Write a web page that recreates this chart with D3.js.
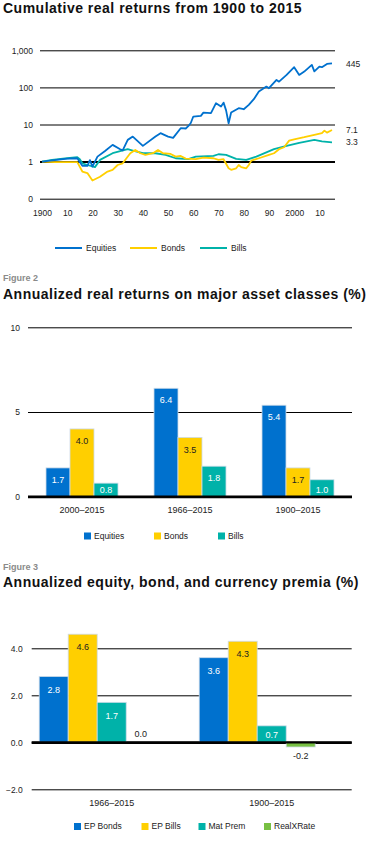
<!DOCTYPE html>
<html>
<head>
<meta charset="utf-8">
<script src="https://cdn.jsdelivr.net/npm/d3@7"></script>
<style>
  html, body { margin: 0; padding: 0; background: #fff; }
  svg { display: block; font-family: "Liberation Sans", Arial, sans-serif; }
  .title { font-weight: bold; font-size: 14px; fill: #111; letter-spacing: 0.5px; }
  .fig { font-weight: bold; font-size: 9px; fill: #8a8a8a; }
  .tick-label, .legend-text, .cat-label { font-size: 8.5px; fill: #222; }
  .bar-label { font-size: 9px; }
</style>
</head>
<body>
<div id="chart"></div>
<script>
// ---- Figure 1: cumulative real returns (log scale) ----
const equityYears  = [1900, 1905, 1910, 1914, 1916, 1918, 1919, 1920, 1922, 1925, 1928, 1931, 1932, 1934, 1936, 1940, 1945, 1947, 1950, 1952, 1955, 1957, 1958, 1959, 1960, 1963, 1964, 1967, 1969, 1971, 1972, 1973, 1974, 1975, 1978, 1980, 1982, 1984, 1986, 1989, 1990, 1993, 1994, 1997, 2000, 2002, 2004, 2007, 2008, 2010, 2011, 2013, 2015];
const equityValues = [1.0, 1.1, 1.2, 1.23, 0.77, 0.77, 1.1, 0.73, 1.36, 1.94, 2.82, 2.16, 2.0, 3.85, 4.72, 2.65, 4.72, 5.83, 4.72, 4.35, 7.95, 7.8, 9, 11, 16.4, 17.1, 20.9, 20.2, 37.5, 30.4, 38.9, 24, 10.8, 21, 27.5, 25.8, 33.8, 48.1, 77, 105, 95, 159, 143, 217, 350, 217, 267, 404, 270, 364, 350, 430, 445];

const bondYears  = [1900, 1905, 1910, 1914, 1916, 1918, 1920, 1923, 1926, 1928, 1930, 1932, 1935, 1937, 1939, 1941, 1944, 1946, 1948, 1951, 1953, 1955, 1957, 1961, 1964, 1968, 1970, 1972, 1974, 1975, 1977, 1978, 1979, 1981, 1982, 1983, 1986, 1990, 1992, 1994, 1996, 1998, 2000, 2004, 2008, 2011, 2012, 2013, 2015];
const bondValues = [1.0, 0.97, 0.97, 0.97, 0.54, 0.49, 0.31, 0.39, 0.54, 0.6, 0.81, 0.9, 1.68, 2.07, 1.68, 1.52, 1.68, 2.07, 1.68, 1.61, 1.36, 1.42, 1.2, 1.16, 1.28, 1.23, 1.11, 1.16, 0.66, 0.6, 0.66, 0.81, 0.71, 0.66, 0.81, 1.06, 1.23, 1.52, 1.68, 2.16, 2.44, 3.68, 4.0, 4.54, 5.25, 5.83, 6.85, 6.05, 7.1];

const billYears  = [1900, 1904, 1910, 1914, 1915, 1916, 1918, 1921, 1923, 1928, 1934, 1936, 1940, 1945, 1949, 1953, 1958, 1961, 1968, 1970, 1973, 1977, 1981, 1985, 1992, 1997, 2002, 2008, 2011, 2015];
const billValues = [1.0, 1.11, 1.23, 1.31, 1.16, 0.9, 0.81, 0.71, 1.11, 1.68, 2.16, 1.98, 1.68, 1.68, 1.52, 1.23, 1.16, 1.36, 1.42, 1.58, 1.52, 1.18, 1.11, 1.36, 2.16, 2.65, 3.2, 3.85, 3.5, 3.3];

const logTicks = [0.1, 1, 10, 100, 1000];
const logTickLabels = ['0', '1', '10', '100', '1,000'];
const yearTicks = [1900, 1910, 1920, 1930, 1940, 1950, 1960, 1970, 1980, 1990, 2000, 2010];
const yearTickLabels = ['1900', '10', '20', '30', '40', '50', '60', '70', '80', '90', '2000', '10'];
const lineSeries = ['Equities', 'Bonds', 'Bills'];
const endLabels = ['445', '7.1', '3.3'];

// ---- Figure 2: annualized real returns ----
const periods2 = ['2000–2015', '1966–2015', '1900–2015'];
const assets2 = ['Equities', 'Bonds', 'Bills'];
const equities2 = [1.7, 6.4, 5.4];
const bonds2 = [4.0, 3.5, 1.7];
const bills2 = [0.8, 1.8, 1.0];
const ticks2 = [0, 5, 10];

// ---- Figure 3: premia ----
const periods3 = ['1966–2015', '1900–2015'];
const premia3 = ['EP Bonds', 'EP Bills', 'Mat Prem', 'RealXRate'];
const epBonds3 = [2.8, 3.6];
const epBills3 = [4.6, 4.3];
const matPrem3 = [1.7, 0.7];
const realXRate3 = [0.0, -0.2];
const ticks3 = [-2, 0, 2, 4];

const COLORS = {
    blue: '#0071ce',
    yellow: '#ffcf00',
    teal: '#00b2a9',
    green: '#78c043',
    grid: '#000',
    edge: '#cddbe8'
};
const seriesColors = [COLORS.blue, COLORS.yellow, COLORS.teal, COLORS.green];

const svg = d3.select('#chart')
    .append('svg')
    .attr('width', 374)
    .attr('height', 851);

// Titles
svg.append('text').attr('class', 'title').attr('x', 3).attr('y', 12.5)
    .text('Cumulative real returns from 1900 to 2015');
svg.append('text').attr('class', 'fig').attr('x', 3).attr('y', 281).text('Figure 2');
svg.append('text').attr('class', 'title').attr('x', 3).attr('y', 299)
    .text('Annualized real returns on major asset classes (%)');
svg.append('text').attr('class', 'fig').attr('x', 3).attr('y', 570).text('Figure 3');
svg.append('text').attr('class', 'title').attr('x', 3).attr('y', 587)
    .text('Annualized equity, bond, and currency premia (%)');

// ================= Figure 1 =================
const x1 = d3.scaleLinear().domain([1900, 2015]).range([42, 332]);
const y1 = d3.scaleLog().domain([0.1, 1000]).range([198.7, 50.3]);
const gridL = 40, gridR = 335;

const g1 = svg.append('g');

const yAxis1 = g1.append('g')
    .attr('transform', `translate(${gridL},0)`)
    .call(d3.axisLeft(y1).tickValues(logTicks)
        .tickFormat((d, i) => logTickLabels[i])
        .tickSizeInner(-(gridR - gridL)).tickSizeOuter(0).tickPadding(7));
yAxis1.select('.domain').remove();
yAxis1.selectAll('.tick line')
    .attr('stroke', COLORS.grid)
    .attr('stroke-width', d => d === 1 ? 2 : 1);
yAxis1.selectAll('.tick text').attr('class', 'tick-label').style('font-size', '8.5px');

const xAxis1 = g1.append('g')
    .attr('transform', `translate(0,${y1(0.1)})`)
    .call(d3.axisBottom(x1).tickValues(yearTicks)
        .tickFormat((d, i) => yearTickLabels[i])
        .tickSize(0).tickPadding(11));
xAxis1.select('.domain').remove();
xAxis1.selectAll('.tick text').attr('class', 'tick-label').style('font-size', '8.5px');

const lineData = [
    equityYears.map((yr, i) => ({ year: yr, value: equityValues[i] })),
    bondYears.map((yr, i) => ({ year: yr, value: bondValues[i] })),
    billYears.map((yr, i) => ({ year: yr, value: billValues[i] }))
];

const line = d3.line()
    .x(d => x1(d.year))
    .y(d => y1(d.value));

// draw bills and bonds under equities, matching reference layering
[2, 1, 0].forEach(i => {
    g1.append('path')
        .datum(lineData[i])
        .attr('fill', 'none')
        .attr('stroke', seriesColors[i])
        .attr('stroke-width', 1.8)
        .attr('stroke-linejoin', 'round')
        .attr('d', line);
});

const endOffsets = [1, 0, 0];
lineData.forEach((s, i) => {
    const last = s[s.length - 1];
    g1.append('text')
        .attr('class', 'tick-label')
        .attr('x', 346)
        .attr('y', y1(last.value) + endOffsets[i])
        .attr('dy', '0.35em')
        .text(endLabels[i]);
});

// legend (line swatches)
const legend1X = [55, 130, 200];
const legend1 = g1.append('g').attr('transform', 'translate(0,248)');
lineSeries.forEach((name, i) => {
    legend1.append('line')
        .attr('x1', legend1X[i]).attr('x2', legend1X[i] + 27)
        .attr('stroke', seriesColors[i]).attr('stroke-width', 2);
    legend1.append('text')
        .attr('class', 'legend-text')
        .attr('x', legend1X[i] + 31).attr('dy', '0.35em')
        .text(name);
});

// ============ shared grouped-bar helper ============
function barChart(opts) {
    const g = svg.append('g');
    const y = d3.scaleLinear().domain(opts.yDomain).range(opts.yRange);

    const axis = g.append('g')
        .attr('transform', `translate(${opts.gridL},0)`)
        .call(d3.axisLeft(y).tickValues(opts.ticks)
            .tickFormat(opts.tickFormat)
            .tickSizeInner(-(opts.gridR - opts.gridL)).tickSizeOuter(0).tickPadding(opts.tickPad));
    axis.select('.domain').remove();
    axis.selectAll('.tick line')
        .attr('stroke', COLORS.grid)
        .attr('stroke-width', d => d === 0 ? 2.2 : 1);
    axis.selectAll('.tick text').attr('class', 'tick-label').style('font-size', '8.5px');

    const x0 = d3.scaleBand()
        .domain(opts.categories)
        .range([opts.gridL, opts.gridR])
        .paddingInner(opts.paddingInner)
        .paddingOuter(opts.paddingOuter);

    const xs = d3.scaleBand()
        .domain(opts.series)
        .range([0, x0.bandwidth() * opts.slotShare]);

    const rows = opts.categories.map((c, ci) => opts.series.map((s, si) => ({
        cat: c, series: s, si: si, value: opts.values[si][ci]
    })));

    const groups = g.selectAll('.grp')
        .data(rows)
        .join('g')
        .attr('class', 'grp')
        .attr('transform', d => `translate(${x0(d[0].cat)},0)`);

    groups.selectAll('rect')
        .data(d => d)
        .join('rect')
        .attr('x', d => xs(d.series))
        .attr('y', d => y(Math.max(0, d.value)))
        .attr('width', xs.bandwidth())
        .attr('height', d => Math.abs(y(d.value) - y(0)))
        .attr('fill', d => seriesColors[d.si])
        .attr('stroke', COLORS.edge)
        .attr('stroke-width', 0.8);

    // zero line back on top of bars
    g.append('line')
        .attr('x1', opts.gridL).attr('x2', opts.gridR)
        .attr('y1', y(0)).attr('y2', y(0))
        .attr('stroke', COLORS.grid).attr('stroke-width', 2.2);

    groups.selectAll('.bar-label')
        .data(d => d)
        .join('text')
        .attr('class', 'bar-label')
        .attr('text-anchor', 'middle')
        .attr('dy', '0.35em')
        .attr('x', d => xs(d.series) + xs.bandwidth() / 2)
        .attr('y', d => {
            if (d.value === 0) return y(0) - 8;
            if (d.value < 0) return y(d.value) + 9;
            const top = y(d.value);
            return Math.min(top + opts.labelInset, y(0) - 7);
        })
        .attr('fill', d => (d.value <= 0 || d.si === 1 || d.si === 3) ? '#222' : '#fff')
        .text(d => d.value.toFixed(1));

    g.selectAll('.cat-label')
        .data(opts.categories)
        .join('text')
        .attr('class', 'cat-label')
        .attr('text-anchor', 'middle')
        .attr('x', d => x0(d) + x0.bandwidth() / 2 + opts.catShift)
        .attr('y', opts.catY)
        .style('font-size', '9px')
        .text(d => d);

    const legend = g.append('g').attr('transform', `translate(0,${opts.legendY})`);
    opts.series.forEach((name, i) => {
        legend.append('rect')
            .attr('x', opts.legendX[i]).attr('y', -3.5)
            .attr('width', 7).attr('height', 7)
            .attr('fill', seriesColors[i]);
        legend.append('text')
            .attr('class', 'legend-text')
            .attr('x', opts.legendX[i] + 10).attr('dy', '0.35em')
            .text(name);
    });
}

// ================= Figure 2 =================
barChart({
    categories: periods2,
    series: assets2,
    values: [equities2, bonds2, bills2],
    yDomain: [0, 10],
    yRange: [496.7, 327.3],
    ticks: ticks2,
    tickFormat: d => d,
    tickPad: 8,
    gridL: 28, gridR: 352,
    paddingInner: 1 / 3, paddingOuter: 1 / 6,
    slotShare: 1,
    labelInset: 12,
    catShift: 0,
    catY: 513,
    legendY: 536,
    legendX: [84, 154, 218]
});

// ================= Figure 3 =================
barChart({
    categories: periods3,
    series: premia3,
    values: [epBonds3, epBills3, matPrem3, realXRate3],
    yDomain: [-2, 4],
    yRange: [789.3, 648.3],
    ticks: ticks3,
    tickFormat: d3.format('.1f'),
    tickPad: 9,
    gridL: 31.7, gridR: 351.7,
    paddingInner: 15 / 160, paddingOuter: 15 / 320,
    // source layout leaves an empty fifth slot after RealXRate
    slotShare: 4 / 5,
    labelInset: 13,
    catShift: 0,
    catY: 806,
    legendY: 826.5,
    legendX: [74, 141.5, 198.5, 264]
});
</script>
</body>
</html>
